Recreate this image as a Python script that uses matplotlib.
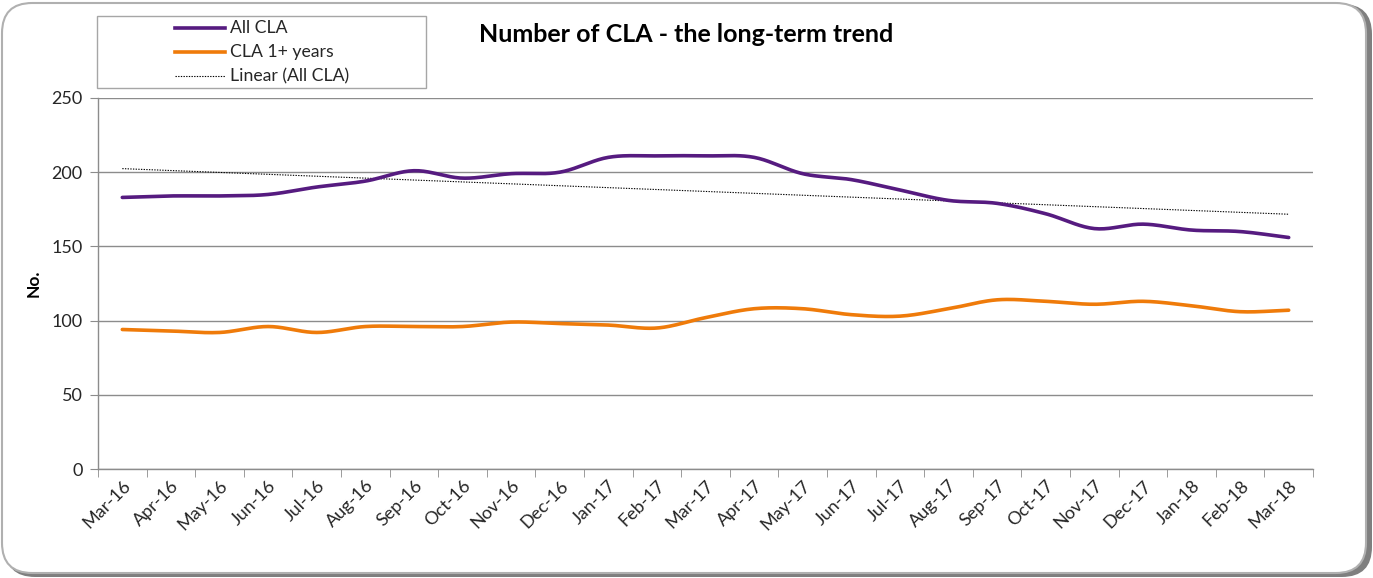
import numpy as np
import matplotlib
matplotlib.use("Agg")
import matplotlib.pyplot as plt
from matplotlib.patches import FancyBboxPatch, Rectangle
from matplotlib.lines import Line2D

plt.rcParams['font.family'] = ['Lato', 'DejaVu Sans']

months = ["Mar-16", "Apr-16", "May-16", "Jun-16", "Jul-16", "Aug-16", "Sep-16",
          "Oct-16", "Nov-16", "Dec-16", "Jan-17", "Feb-17", "Mar-17", "Apr-17",
          "May-17", "Jun-17", "Jul-17", "Aug-17", "Sep-17", "Oct-17", "Nov-17",
          "Dec-17", "Jan-18", "Feb-18", "Mar-18"]
all_cla = [183, 184, 184, 185, 190, 194, 201, 196, 199, 200, 210, 211, 211, 210,
           199, 195, 188, 181, 179, 172, 162, 165, 161, 160, 156]
cla_1plus = [94, 93, 92, 96, 92, 96, 96, 96, 99, 98, 97, 95, 102, 108,
             108, 104, 103, 108, 114, 113, 111, 113, 110, 106, 107]
y_ticks = [0, 50, 100, 150, 200, 250]

PURPLE = '#561B80'
ORANGE = '#EF7B0A'
GRID = '#8C8C8C'
FS = 13


def smooth(y, n=20):
    """Catmull-Rom smoothing (similar to Excel's smoothed line)."""
    y = np.asarray(y, float)
    x = np.arange(len(y), dtype=float)
    P = np.concatenate([[2 * y[0] - y[1]], y, [2 * y[-1] - y[-2]]])
    xs, ys = [], []
    for i in range(len(y) - 1):
        p0, p1, p2, p3 = P[i], P[i + 1], P[i + 2], P[i + 3]
        t = np.linspace(0, 1, n, endpoint=False)
        yy = 0.5 * ((2 * p1) + (-p0 + p2) * t + (2 * p0 - 5 * p1 + 4 * p2 - p3) * t ** 2
                    + (-p0 + 3 * p1 - 3 * p2 + p3) * t ** 3)
        xs.append(x[i] + t)
        ys.append(yy)
    xs.append([x[-1]])
    ys.append([y[-1]])
    return np.concatenate(xs), np.concatenate(ys)


W, H = 1373, 578
fig = plt.figure(figsize=(W / 100, H / 100), dpi=100)
fig.patch.set_facecolor('white')

# frame with shadow
shadow = FancyBboxPatch((5 / W, 1 / H), (W - 6) / W, (H - 5) / H,
                        boxstyle="round,pad=0,rounding_size=0.022",
                        transform=fig.transFigure, facecolor='#7f7f7f',
                        edgecolor='none', mutation_aspect=W / H, zorder=0)
frame = FancyBboxPatch((2 / W, 5 / H), (W - 9) / W, (H - 8) / H,
                       boxstyle="round,pad=0,rounding_size=0.022",
                       transform=fig.transFigure, facecolor='white',
                       edgecolor='#b0b0b0', linewidth=1.5, mutation_aspect=W / H, zorder=1)
fig.patches.extend([shadow, frame])

ax = fig.add_axes([98 / W, 1 - 469 / H, (1313 - 98) / W, (469 - 98) / H])
ax.set_zorder(2)
ax.patch.set_alpha(0)

x = np.arange(len(months))
xs, ys = smooth(all_cla)
ax.plot(xs, ys, color=PURPLE, lw=2.6, solid_capstyle='round', zorder=3)
xs2, ys2 = smooth(cla_1plus)
ax.plot(xs2, ys2, color=ORANGE, lw=2.6, solid_capstyle='round', zorder=3)

coef = np.polyfit(x, all_cla, 1)
ax.plot(x, np.polyval(coef, x), color='black', lw=0.8, ls=(0, (1.2, 1.2)), zorder=2)

ax.set_xlim(-0.5, len(months) - 0.5)
ax.set_ylim(0, 250)
ax.set_yticks(y_ticks)
ax.set_yticklabels([str(v) for v in y_ticks], fontsize=FS, color='#262626')
ax.yaxis.grid(True, color=GRID, lw=1)
ax.set_axisbelow(True)

ax.set_xticks(x)
ax.set_xticklabels(months, rotation=45, ha='right', rotation_mode='anchor',
                   fontsize=FS, color='#262626')
ax.tick_params(axis='x', length=0, pad=6)
ax.set_xticks(np.arange(len(months) + 1) - 0.5, minor=True)
ax.tick_params(axis='x', which='minor', length=6, color=GRID, direction='out')
ax.tick_params(axis='y', length=6, color=GRID, direction='out', pad=5)

for s in ['top', 'right']:
    ax.spines[s].set_visible(False)
for s in ['left', 'bottom']:
    ax.spines[s].set_color(GRID)
    ax.spines[s].set_linewidth(1)

ax.set_ylabel('No.', fontsize=12.5, fontweight='bold', labelpad=7)

fig.text(686 / W, 1 - 35 / H, 'Number of CLA - the long-term trend',
         ha='center', va='center', fontsize=18, fontweight='bold', color='black')

# legend box
lg = Rectangle((97 / W, 1 - 88 / H), (426 - 97) / W, (88 - 16) / H,
               transform=fig.transFigure, facecolor='white', edgecolor='#a6a6a6',
               lw=1, zorder=3)
fig.patches.append(lg)
leg_items = [("All CLA", PURPLE, 2.6, '-'), ("CLA 1+ years", ORANGE, 2.6, '-'),
             ("Linear (All CLA)", 'black', 0.8, (0, (1.2, 1.2)))]
for i, (lab, c, lw, ls) in enumerate(leg_items):
    yy = 1 - (28 + 24 * i) / H
    fig.lines.append(Line2D([175 / W, 225 / W], [yy, yy], transform=fig.transFigure,
                            color=c, lw=lw, ls=ls, zorder=4))
    fig.text(230 / W, yy, lab, ha='left', va='center', fontsize=12.7, color='#262626', zorder=4)

fig.savefig('out.png', dpi=100, facecolor=fig.get_facecolor())
